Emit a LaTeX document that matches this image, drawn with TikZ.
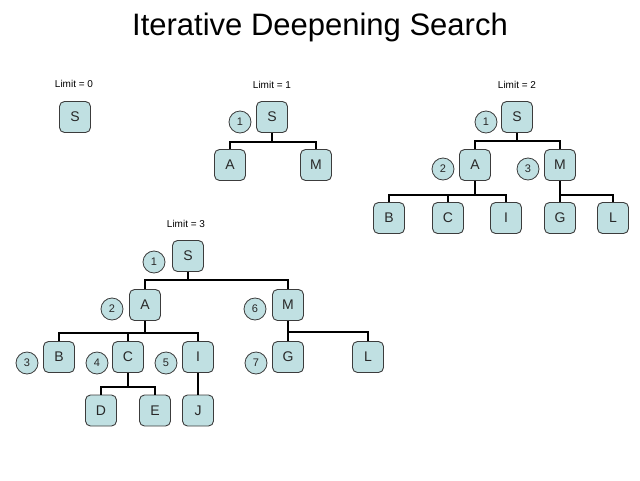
\documentclass[tikz,border=0pt]{standalone}
\usepackage{fontspec}
\setmainfont{Liberation Sans}
\definecolor{boxfill}{RGB}{192,224,226}
\definecolor{boxline}{RGB}{60,60,60}
\definecolor{txt}{RGB}{40,40,40}
\tikzset{
  tnode/.style={draw=boxline, fill=boxfill, line width=0.9pt, rounded corners=5pt,
    minimum width=31pt, minimum height=31pt, inner sep=0pt, font=\fontsize{14}{14}\selectfont, text=txt},
  onum/.style={circle, draw=boxline, fill=boxfill, line width=0.8pt, minimum size=22pt, inner sep=0pt,
    font=\fontsize{11}{11}\selectfont, text=txt},
  lim/.style={font=\fontsize{10}{10}\selectfont, text=black},
  conn/.style={line width=2pt, black}
}
\newcommand\tlink[3]{\draw[conn] (#1.south) -- (#1.south |- 0,#3) -| (#2.north);}
\begin{document}
\begin{tikzpicture}[x=1pt,y=-1pt]
\useasboundingbox (0,0) rectangle (640,480);
\node[font=\fontsize{31}{31}\selectfont] (title) at (320,27) {Iterative Deepening Search};

% Limit 0
\node[lim] (l0) at (74,84) {Limit = 0};
\node[tnode] (s0) at (75,117) {S};

% Limit 1
\node[lim] (l1) at (272,85) {Limit = 1};
\node[tnode] (s1) at (272,117) {S};
\node[tnode] (a1) at (230,165) {A};
\node[tnode] (m1) at (316,165) {M};
\node[onum] (n11) at (240,122) {1};
\tlink{s1}{a1}{142}
\tlink{s1}{m1}{142}

% Limit 2
\node[lim] (l2) at (517,85) {Limit = 2};
\node[tnode] (s2) at (517,117) {S};
\node[tnode] (a2) at (475,165) {A};
\node[tnode] (m2) at (560,165) {M};
\node[tnode] (b2) at (389,218) {B};
\node[tnode] (c2) at (448,218) {C};
\node[tnode] (i2) at (506,218) {I};
\node[tnode] (g2) at (560,218) {G};
\node[tnode] (ll2) at (613,218) {L};
\node[onum] (n21) at (486,122) {1};
\node[onum] (n22) at (443,169) {2};
\node[onum] (n23) at (528,169) {3};
\tlink{s2}{a2}{141}
\tlink{s2}{m2}{141}
\tlink{a2}{b2}{195}
\tlink{a2}{c2}{195}
\tlink{a2}{i2}{195}
\tlink{m2}{g2}{195}
\tlink{m2}{ll2}{195}

% Limit 3
\node[lim] (l3) at (186,224) {Limit = 3};
\node[tnode] (s3) at (188,256) {S};
\node[tnode] (a3) at (145,305) {A};
\node[tnode] (m3) at (288,305) {M};
\node[tnode] (b3) at (59,357) {B};
\node[tnode] (c3) at (128,357) {C};
\node[tnode] (i3) at (198,357) {I};
\node[tnode] (g3) at (288,357) {G};
\node[tnode] (ll3) at (368,357) {L};
\node[tnode] (d3) at (101,410.5) {D};
\node[tnode] (e3) at (155,410.5) {E};
\node[tnode] (j3) at (198,410.5) {J};
\node[onum] (n31) at (154,262) {1};
\node[onum] (n32) at (112,309) {2};
\node[onum] (n36) at (255,309) {6};
\node[onum] (n33) at (27,363) {3};
\node[onum] (n34) at (97,363) {4};
\node[onum] (n35) at (166,363) {5};
\node[onum] (n37) at (256,363) {7};
\tlink{s3}{a3}{280}
\tlink{s3}{m3}{280}
\tlink{a3}{b3}{333}
\tlink{a3}{c3}{333}
\tlink{a3}{i3}{333}
\tlink{m3}{g3}{332}
\tlink{m3}{ll3}{332}
\tlink{c3}{d3}{387}
\tlink{c3}{e3}{387}
\draw[conn] (i3.south) -- (j3.north);
\end{tikzpicture}
\end{document}
